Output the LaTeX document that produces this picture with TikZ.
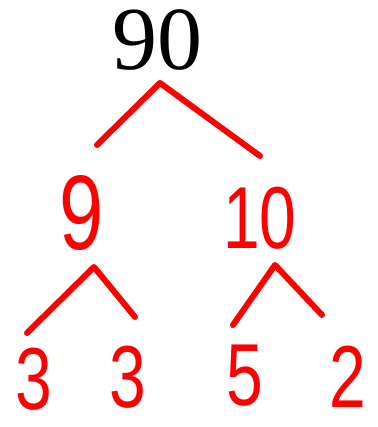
\documentclass[tikz,border=0pt]{standalone}
\usepackage{fontspec}
\setmainfont{Liberation Serif}
\newfontfamily\handfont{Liberation Sans}
\usetikzlibrary{positioning}
\definecolor{penRed}{HTML}{FF0000}

\tikzset{
    digit/.style={text=penRed, inner sep=0pt, xscale=0.75, anchor=base,
        text depth=0pt, font=\handfont\fontsize{88}{88}\selectfont},
    branch/.style={draw=penRed, line width=6pt, line cap=round, line join=round}
}

\begin{document}
\begin{tikzpicture}[x=1pt, y=-1pt]
        \useasboundingbox (0,0) rectangle (377,427);
        % top number
        \node[inner sep=0pt, anchor=base, text depth=0pt, font=\fontsize{90}{90}\selectfont] (n90) at (157,70) {90};
        % first split
        \node[digit, font=\handfont\fontsize{106}{106}\selectfont] (n9) at (82,249) {9};
        \node[digit] (n10) at (260,248) {10};
        % prime factors
        \node[digit] (n3a) at (34,409) {3};
        \node[digit] (n3b) at (128,407) {3};
        \node[digit] (n5) at (245,405) {5};
        \node[digit] (n2) at (348,407) {2};
        % branch points
        \coordinate (t90) at (160,83);
        \coordinate (l90) at (97,145);
        \coordinate (r90) at (260,156);
        \coordinate (t9) at (94,267);
        \coordinate (l9) at (27,333);
        \coordinate (r9) at (135,317);
        \coordinate (t10) at (275,265);
        \coordinate (l10) at (233,325);
        \coordinate (r10) at (322,315);
        \draw[branch] (l90) -- (t90) -- (r90);
        \draw[branch] (l9) -- (t9) -- (r9);
        \draw[branch] (l10) -- (t10) -- (r10);
    \end{tikzpicture}
\end{document}
